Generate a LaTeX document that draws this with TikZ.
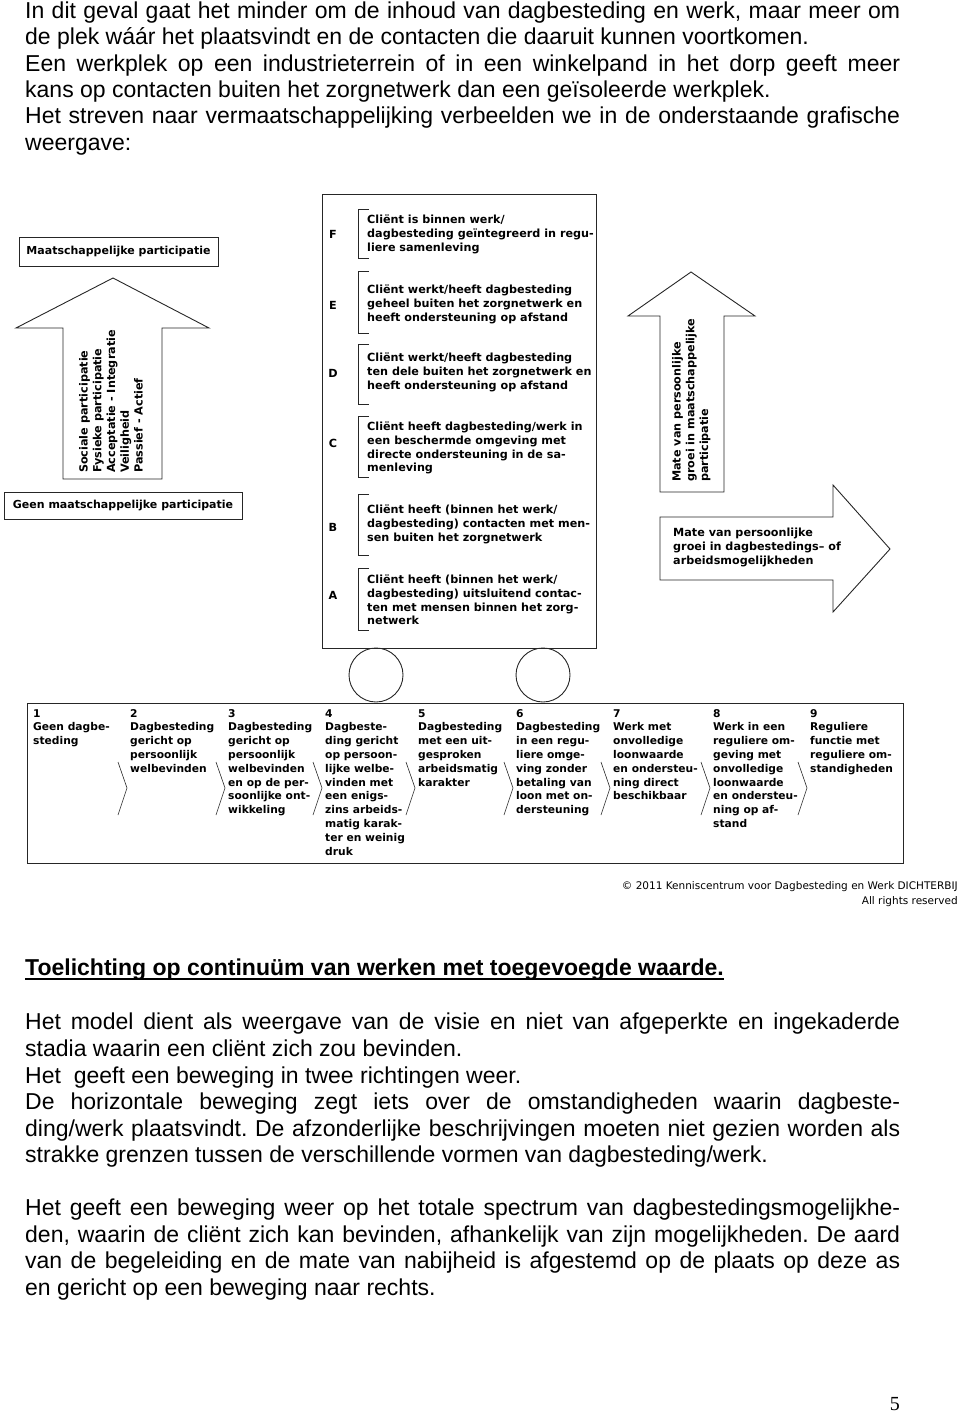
\documentclass[tikz,border=0pt]{standalone}
\usepackage{fontspec}
\setmainfont{Liberation Sans}
\newfontfamily\vfont{DejaVu Sans}
\newfontfamily\tfont{Liberation Serif}
\frenchspacing
\tikzset{
  shp/.style={draw=black!85, line width=0.9pt},
  dtxt/.style={font=\vfont\bfseries\fontsize{11.2}{13.7}\selectfont, align=left, inner sep=0pt},
  ctxt/.style={font=\vfont\bfseries\fontsize{10.7}{13.8}\selectfont, align=left, inner sep=0pt, anchor=north west},
  body/.style={font=\fontsize{23}{26.5}\selectfont, inner sep=0pt, anchor=base west},
  lbox/.style={draw=black!85, line width=0.9pt, font=\vfont\bfseries\fontsize{11}{13}\selectfont, inner sep=0pt},
}
\newcommand{\jline}[1]{\makebox[875pt][s]{#1}}
\begin{document}
\begin{tikzpicture}[x=1pt,y=-1pt]
\useasboundingbox (0,0) rectangle (960,1412);
% text above the figure
\node[body] (p1) at (25,19) {\jline{In dit geval gaat het minder om de inhoud van dagbesteding en werk, maar meer om}};
\node[body] (p2) at (25,45) {de plek wáár het plaatsvindt en de contacten die daaruit kunnen voortkomen.};
\node[body] (p3) at (25,72) {\jline{Een werkplek op een industrieterrein of in een winkelpand in het dorp geeft meer}};
\node[body] (p4) at (25,98) {kans op contacten buiten het zorgnetwerk dan een geïsoleerde werkplek.};
\node[body] (p5) at (25,124) {\jline{Het streven naar vermaatschappelijking verbeelden we in de onderstaande grafische}};
\node[body] (p6) at (25,151) {weergave:};

% left: participation arrow
\node[lbox, minimum width=199pt, minimum height=29pt] (mp) at (118.5,251.5) {Maatschappelijke participatie};
\draw[shp] (63,479) -- (63,328) -- (16,328) -- (113,278) -- (209,328) -- (162,328) -- (162,479) -- cycle;
\node[dtxt, rotate=90, anchor=north west] (lpart) at (79,473) {Sociale participatie\\Fysieke participatie\\Acceptatie - Integratie\\Veiligheid\\Passief - Actief};
\node[lbox, minimum width=238pt, minimum height=27pt] (gmp) at (123,505.5) {Geen maatschappelijke participatie};

% the cart
\draw[shp] (322,194) rectangle (596,648);
\foreach \t/\b in {209/258,271/333,344/404,416/477,494/555,568/630}
{
    \draw[shp, line width=0.7pt] (369,\t) -- (358,\t) -- (358,\b) -- (369,\b);
}
\node[dtxt] (F) at (333,234) {F};
\node[dtxt] (E) at (333,305) {E};
\node[dtxt] (D) at (333,373) {D};
\node[dtxt] (C) at (333,443) {C};
\node[dtxt] (B) at (333,527) {B};
\node[dtxt] (A) at (333,595) {A};
\node[dtxt, anchor=north west] (tF) at (367,215) {Cliënt is binnen werk/\\dagbesteding geïntegreerd in regu-\\liere samenleving};
\node[dtxt, anchor=north west] (tE) at (367,285) {Cliënt werkt/heeft dagbesteding\\geheel buiten het zorgnetwerk en\\heeft ondersteuning op afstand};
\node[dtxt, anchor=north west] (tD) at (367,353) {Cliënt werkt/heeft dagbesteding\\ten dele buiten het zorgnetwerk en\\heeft ondersteuning op afstand};
\node[dtxt, anchor=north west] (tC) at (367,422) {Cliënt heeft dagbesteding/werk in\\een beschermde omgeving met\\directe ondersteuning in de sa-\\menleving};
\node[dtxt, anchor=north west] (tB) at (367,505) {Cliënt heeft (binnen het werk/\\dagbesteding) contacten met men-\\sen buiten het zorgnetwerk};
\node[dtxt, anchor=north west] (tA) at (367,575) {Cliënt heeft (binnen het werk/\\dagbesteding) uitsluitend contac-\\ten met mensen binnen het zorg-\\netwerk};
\draw[shp] (376,675) circle (27pt);
\draw[shp] (543,675) circle (27pt);

% right: growth arrows
\draw[shp] (660,492) -- (660,316) -- (628,316) -- (691,272) -- (755,316) -- (724,316) -- (724,492) -- cycle;
\node[dtxt, rotate=90, anchor=north west] (vgrowth) at (672,482) {Mate van persoonlijke\\groei in maatschappelijke\\participatie};
\draw[shp] (660,517) -- (833,517) -- (833,485) -- (890,549) -- (833,612) -- (833,580) -- (660,580) -- cycle;
\node[dtxt, anchor=north west] (hgrowth) at (673,528) {Mate van persoonlijke\\groei in dagbestedings– of\\arbeidsmogelijkheden};

% continuum
\draw[shp] (27,703) rectangle (903,863);
\node[ctxt] (c1) at (33,709) {1\\Geen dagbe-\\steding};
\node[ctxt] (c2) at (130,709) {2\\Dagbesteding\\gericht op\\persoonlijk\\welbevinden};
\node[ctxt] (c3) at (228,709) {3\\Dagbesteding\\gericht op\\persoonlijk\\welbevinden\\en op de per-\\soonlijke ont-\\wikkeling};
\node[ctxt] (c4) at (325,709) {4\\Dagbeste-\\ding gericht\\op persoon-\\lijke welbe-\\vinden met\\een enigs-\\zins arbeids-\\matig karak-\\ter en weinig\\druk};
\node[ctxt] (c5) at (418,709) {5\\Dagbesteding\\met een uit-\\gesproken\\arbeidsmatig\\karakter};
\node[ctxt] (c6) at (516,709) {6\\Dagbesteding\\in een regu-\\liere omge-\\ving zonder\\betaling van\\loon met on-\\dersteuning};
\node[ctxt] (c7) at (613,709) {7\\Werk met\\onvolledige\\loonwaarde\\en ondersteu-\\ning direct\\beschikbaar};
\node[ctxt] (c8) at (713,709) {8\\Werk in een\\reguliere om-\\geving met\\onvolledige\\loonwaarde\\en ondersteu-\\ning op af-\\stand};
\node[ctxt] (c9) at (810,709) {9\\Reguliere\\functie met\\reguliere om-\\standigheden};
\foreach \cx in {130,228,325,418,516,613,713,810}
{
    \draw[shp, line width=0.6pt] (\cx-12,762) -- (\cx-3,788) -- (\cx-12,815);
}
\node[font=\vfont\fontsize{10.5}{15}\selectfont, align=right, anchor=north east, inner sep=0pt] (copy) at (958,881.5) {© 2011 Kenniscentrum voor Dagbesteding en Werk DICHTERBIJ\\All rights reserved};

% text below the figure
\node[body, font=\bfseries\fontsize{23}{26.5}\selectfont] (tl) at (25,975) {Toelichting op continuüm van werken met toegevoegde waarde.};
\draw[line width=1.3pt] ([yshift=-4pt]tl.base west) -- ([yshift=-4pt]tl.base east);
\node[body] (b1) at (25,1029) {\jline{Het model dient als weergave van de visie en niet van afgeperkte en ingekaderde}};
\node[body] (b2) at (25,1056) {stadia waarin een cliënt zich zou bevinden.};
\node[body] (b3) at (25,1083) {Het~ geeft een beweging in twee richtingen weer.};
\node[body] (b4) at (25,1109) {\jline{De horizontale beweging zegt iets over de omstandigheden waarin dagbeste-}};
\node[body] (b5) at (25,1136) {\jline{ding/werk plaatsvindt. De afzonderlijke beschrijvingen moeten niet gezien worden als}};
\node[body] (b6) at (25,1162) {strakke grenzen tussen de verschillende vormen van dagbesteding/werk.};
\node[body] (b7) at (25,1215) {\jline{Het geeft een beweging weer op het totale spectrum van dagbestedingsmogelijkhe-}};
\node[body] (b8) at (25,1242) {\jline{den, waarin de cliënt zich kan bevinden, afhankelijk van zijn mogelijkheden. De aard}};
\node[body] (b9) at (25,1268) {\jline{van de begeleiding en de mate van nabijheid is afgestemd op de plaats op deze as}};
\node[body] (b10) at (25,1295) {en gericht op een beweging naar rechts.};
\node[font=\tfont\fontsize{20}{24}\selectfont, inner sep=0pt, anchor=base east] (pg) at (900,1410) {5};
\end{tikzpicture}
\end{document}
